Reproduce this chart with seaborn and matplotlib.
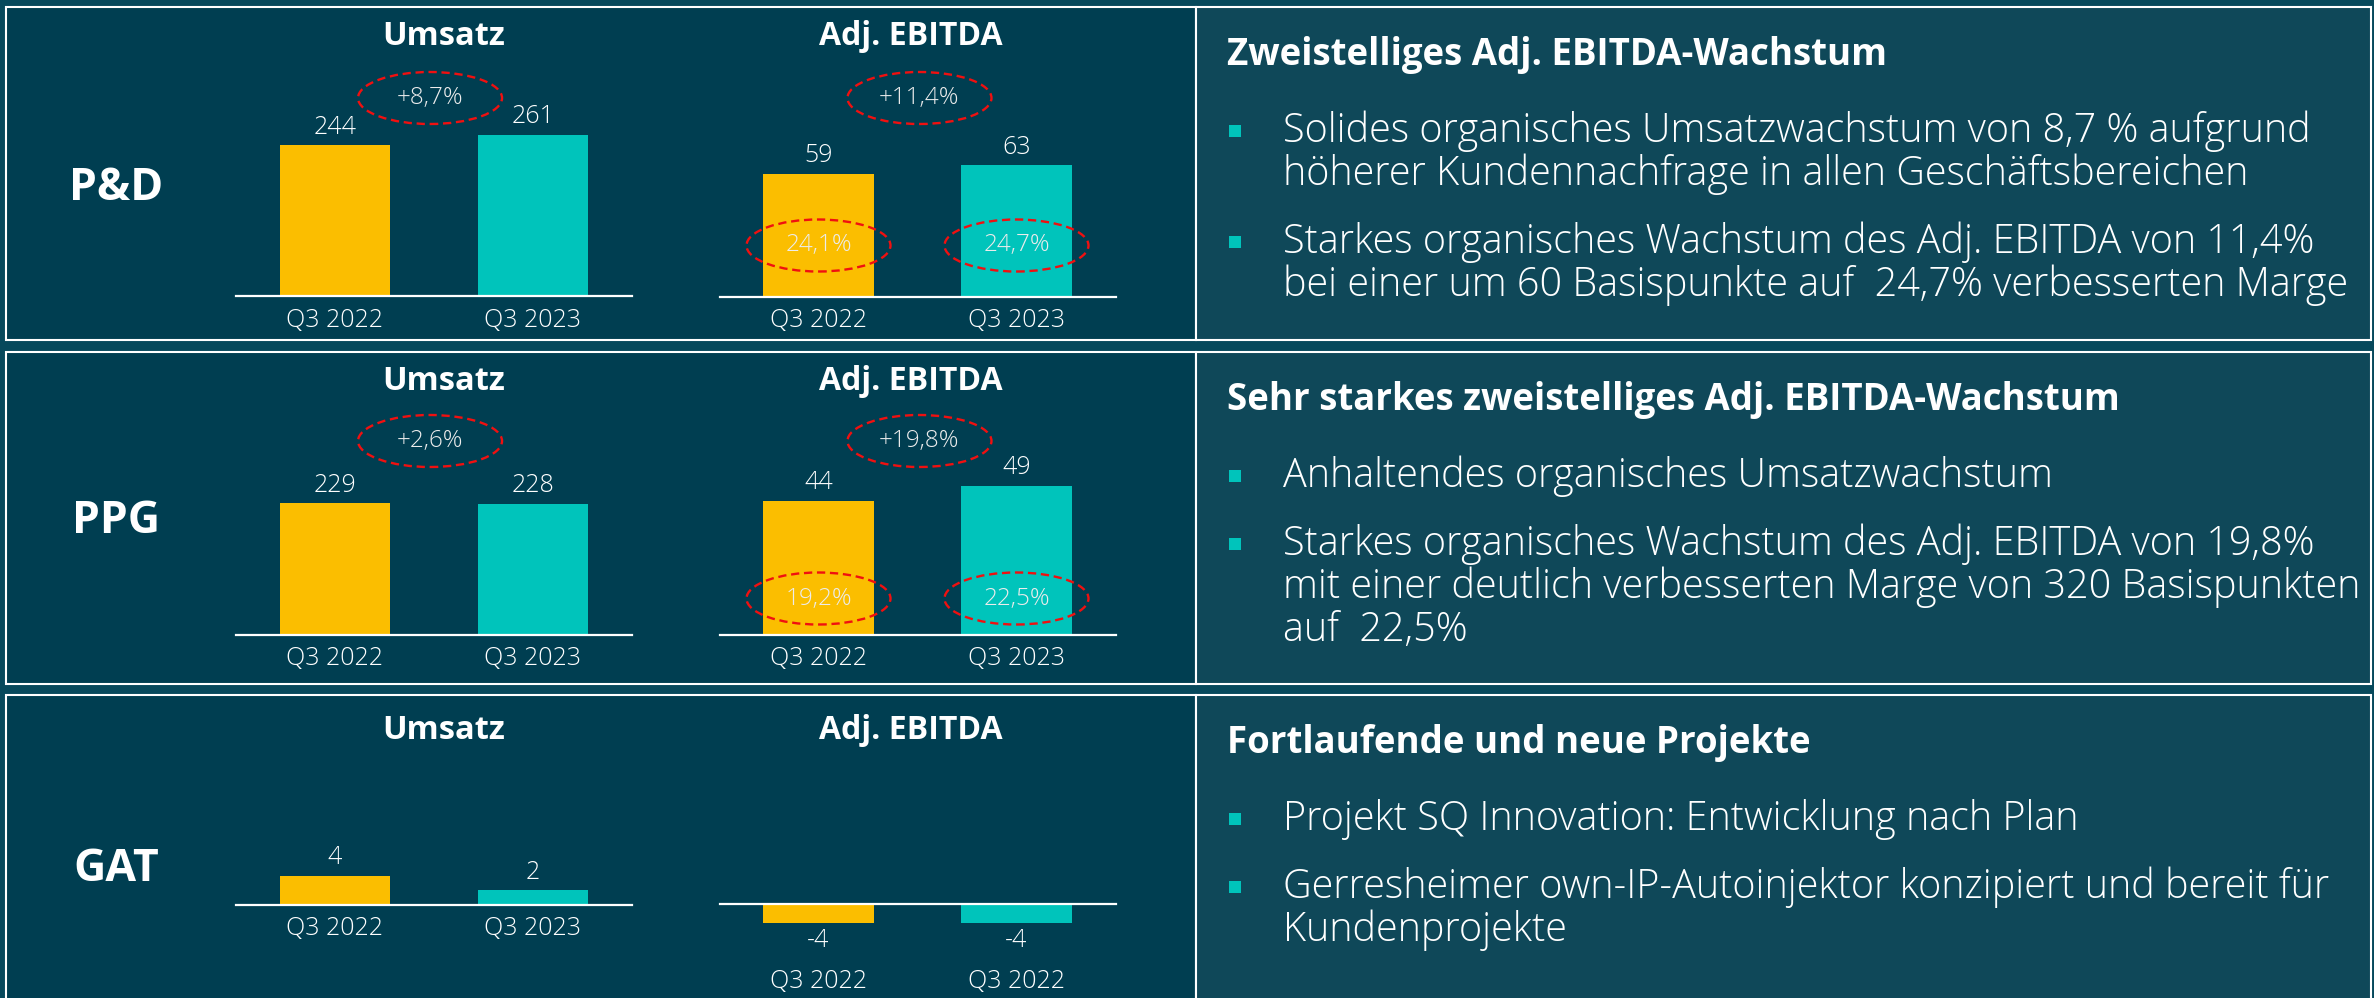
import matplotlib
matplotlib.use("Agg")
import matplotlib.pyplot as plt
from matplotlib.patches import Rectangle, Ellipse
import pandas as pd
import seaborn as sns

# ------------------------------------------------------------------ data
segments = ["P&D", "PPG", "GAT"]
chart_titles = ["Umsatz", "Adj. EBITDA"]
periods = ["Q3 2022", "Q3 2023"]
periods_gat_ebitda = ["Q3 2022", "Q3 2022"]

umsatz_pd = [244, 261]
ebitda_pd = [59, 63]
margin_pd = ["24,1%", "24,7%"]
growth_umsatz_pd = "+8,7%"
growth_ebitda_pd = "+11,4%"

umsatz_ppg = [229, 228]
ebitda_ppg = [44, 49]
margin_ppg = ["19,2%", "22,5%"]
growth_umsatz_ppg = "+2,6%"
growth_ebitda_ppg = "+19,8%"

umsatz_gat = [4, 2]
ebitda_gat = [-4, -4]

headlines = [
    "Zweistelliges Adj. EBITDA-Wachstum",
    "Sehr starkes zweistelliges Adj. EBITDA-Wachstum",
    "Fortlaufende und neue Projekte",
]
bullets_pd = [
    ["Solides organisches Umsatzwachstum von 8,7 % aufgrund",
     "höherer Kundennachfrage in allen Geschäftsbereichen"],
    ["Starkes organisches Wachstum des Adj. EBITDA von 11,4%",
     "bei einer um 60 Basispunkte auf  24,7% verbesserten Marge"],
]
bullets_ppg = [
    ["Anhaltendes organisches Umsatzwachstum"],
    ["Starkes organisches Wachstum des Adj. EBITDA von 19,8%",
     "mit einer deutlich verbesserten Marge von 320 Basispunkten",
     "auf  22,5%"],
]
bullets_gat = [
    ["Projekt SQ Innovation: Entwicklung nach Plan"],
    ["Gerresheimer own-IP-Autoinjektor konzipiert und bereit für",
     "Kundenprojekte"],
]

# ------------------------------------------------------------------ style
YELLOW = "#fbbe00"
TEAL = "#00c4bb"
LEFT_BG = "#003e51"
RIGHT_BG = "#0f4859"
GAP_BG = "#07495c"
RED = "#f01010"

sns.set_style("white")
plt.rcParams["font.family"] = ["Open Sans", "DejaVu Sans"]

W, H = 2374, 998
fig = plt.figure(figsize=(W / 100, H / 100), dpi=100, facecolor=GAP_BG)

bg = fig.add_axes([0, 0, 1, 1])
bg.set_xlim(0, W)
bg.set_ylim(H, 0)
bg.axis("off")

rows = [
    dict(top=7, bottom=340, seg_base=200, title_base=45,
         umsatz=umsatz_pd, ebitda=ebitda_pd, ticks_u=periods, ticks_e=periods,
         base_u=296.5, scale_u=0.62, base_e=296.7, scale_e=2.085,
         growth=(growth_umsatz_pd, growth_ebitda_pd), growth_y=98,
         margins=margin_pd, margin_y=245.5, pad_e=8,
         bullets=bullets_pd),
    dict(top=352, bottom=684, seg_base=533, title_base=390,
         umsatz=umsatz_ppg, ebitda=ebitda_ppg, ticks_u=periods, ticks_e=periods,
         base_u=635, scale_u=0.576, base_e=634.7, scale_e=3.04,
         growth=(growth_umsatz_ppg, growth_ebitda_ppg), growth_y=441,
         margins=margin_ppg, margin_y=598.5, pad_e=8,
         bullets=bullets_ppg),
    dict(top=695, bottom=1010, seg_base=881, title_base=739,
         umsatz=umsatz_gat, ebitda=ebitda_gat, ticks_u=periods, ticks_e=periods_gat_ebitda,
         base_u=905, scale_u=7.3, base_e=903.5, scale_e=4.8,
         growth=None, growth_y=None, margins=None, margin_y=None, pad_e=47,
         bullets=bullets_gat),
]

AX_W = 396
U_LEFT, E_LEFT = 236, 719.5


def draw_chart(left, top_px, baseline, scale, values, ticklabels, tick_pad):
    bottom_px = baseline + 50
    ax = fig.add_axes([left / W, 1 - bottom_px / H, AX_W / W, (bottom_px - top_px) / H])
    df = pd.DataFrame({"key": ["a", "b"], "value": values})
    sns.barplot(data=df, x="key", y="value", hue="key",
                palette={"a": YELLOW, "b": TEAL}, width=0.556, saturation=1,
                legend=False, errorbar=None, ax=ax, edgecolor="none", linewidth=0)
    ax.set_xlim(-0.5, 1.5)
    ax.set_ylim((baseline - bottom_px) / scale, (baseline - top_px) / scale)
    ax.patch.set_alpha(0)
    for s in ["top", "left", "right"]:
        ax.spines[s].set_visible(False)
    ax.spines["bottom"].set_position(("data", 0))
    ax.spines["bottom"].set_color("white")
    ax.spines["bottom"].set_linewidth(1.6)
    ax.set_xlabel("")
    ax.set_ylabel("")
    ax.set_yticks([])
    ax.set_xticks([0, 1])
    ax.set_xticklabels(ticklabels, fontsize=18, fontweight="light", color="white")
    ax.tick_params(axis="x", length=0, pad=tick_pad, labelcolor="white", labelsize=18)
    for c in ax.containers:
        ax.bar_label(c, fmt="%d", padding=4, color="white", fontsize=18, fontweight="light")
    return ax


def ellipse_note(ax, x, y_px, baseline, scale, text):
    yd = (baseline - y_px) / scale
    e = Ellipse((x, yd), width=144 / 198, height=52 / scale, transform=ax.transData,
                fill=False, edgecolor=RED, lw=1.7, linestyle=(0, (3.5, 2)),
                clip_on=False, zorder=6)
    ax.add_patch(e)
    ax.text(x, yd, text, ha="center", va="center", fontsize=17.5, fontweight="light",
            color="#ececec", zorder=7, clip_on=False)


for i, r in enumerate(rows):
    top, bottom = r["top"], r["bottom"]
    bg.add_patch(Rectangle((6, top), 1190, bottom - top, facecolor=LEFT_BG,
                           edgecolor="white", lw=1.5))
    bg.add_patch(Rectangle((1196, top), 2371 - 1196, bottom - top, facecolor=RIGHT_BG,
                           edgecolor="white", lw=1.5))
    bg.text(116, r["seg_base"], segments[i], ha="center", va="baseline",
            fontsize=32, fontweight="bold", color="white")
    bg.text(444, r["title_base"], chart_titles[0], ha="center", va="baseline",
            fontsize=23.5, fontweight="bold", color="white")
    bg.text(911, r["title_base"], chart_titles[1], ha="center", va="baseline",
            fontsize=23, fontweight="bold", color="white")

    ax_u = draw_chart(U_LEFT, top + 60, r["base_u"], r["scale_u"], r["umsatz"], r["ticks_u"], 8)
    ax_e = draw_chart(E_LEFT, top + 60, r["base_e"], r["scale_e"], r["ebitda"], r["ticks_e"], r["pad_e"])

    if r["growth"] is not None:
        ellipse_note(ax_u, 0.48, r["growth_y"], r["base_u"], r["scale_u"], r["growth"][0])
        ellipse_note(ax_e, 0.51, r["growth_y"], r["base_e"], r["scale_e"], r["growth"][1])
    if r["margins"] is not None:
        for j, m in enumerate(r["margins"]):
            ellipse_note(ax_e, j, r["margin_y"], r["base_e"], r["scale_e"], m)

    # right panel text
    yb = top + 58
    bg.text(1227, yb, headlines[i], ha="left", va="baseline", fontsize=26.4,
            fontweight="bold", color="white")
    yb += 77
    for k, para in enumerate(r["bullets"]):
        if k > 0:
            yb += 68
        bg.add_patch(Rectangle((1229, yb - 17), 12, 12, facecolor=TEAL, edgecolor="none"))
        for n, line in enumerate(para):
            if n > 0:
                yb += 43
            bg.text(1283, yb, line, ha="left", va="baseline", fontsize=28.5,
                    fontweight="light", color="white")

fig.savefig("out.png", dpi=100, facecolor=GAP_BG)
